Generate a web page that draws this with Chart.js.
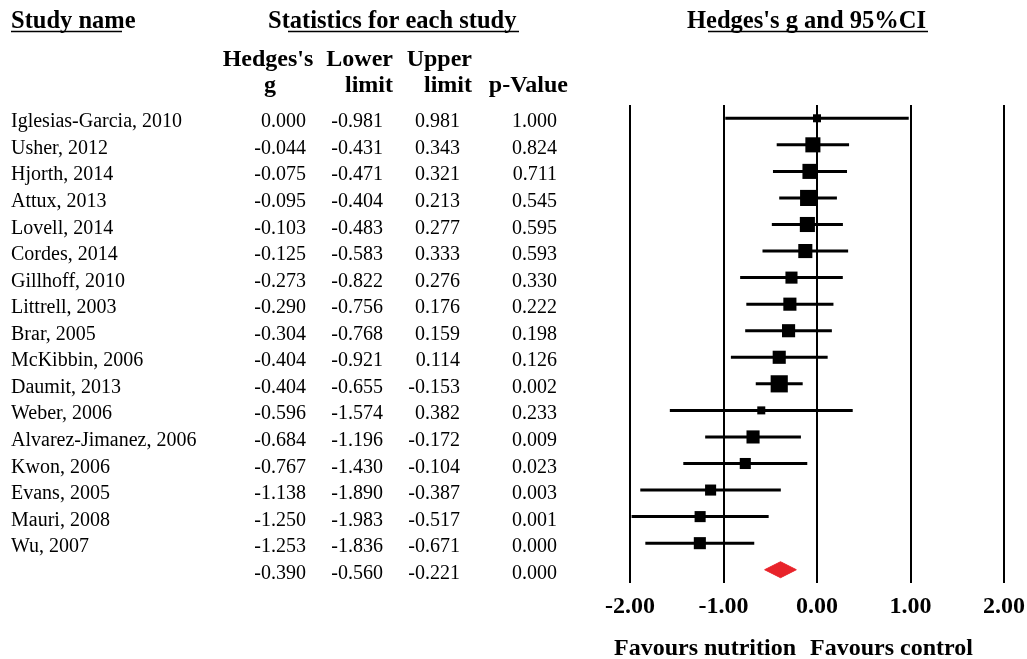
<!DOCTYPE html>
<html>
<head>
<meta charset="utf-8">
<title>Hedges's g forest plot</title>
<script src="https://cdn.jsdelivr.net/npm/chart.js@4.4.1/dist/chart.umd.min.js"></script>
<style>
  html, body { margin: 0; padding: 0; background: #ffffff; }
  #wrap { position: relative; width: 1027px; height: 659px; }
</style>
</head>
<body>
<div id="wrap"><canvas id="forest" width="1027" height="659"></canvas></div>
<script>
// Study-level results (Hedges's g with 95% confidence limits)
const studies = [
  'Iglesias-Garcia, 2010', 'Usher, 2012', 'Hjorth, 2014', 'Attux, 2013',
  'Lovell, 2014', 'Cordes, 2014', 'Gillhoff, 2010', 'Littrell, 2003',
  'Brar, 2005', 'McKibbin, 2006', 'Daumit, 2013', 'Weber, 2006',
  'Alvarez-Jimanez, 2006', 'Kwon, 2006', 'Evans, 2005', 'Mauri, 2008', 'Wu, 2007'
];
const hedgesG = [0.000, -0.044, -0.075, -0.095, -0.103, -0.125, -0.273, -0.290,
  -0.304, -0.404, -0.404, -0.596, -0.684, -0.767, -1.138, -1.250, -1.253];
const lowerLimit = [-0.981, -0.431, -0.471, -0.404, -0.483, -0.583, -0.822, -0.756,
  -0.768, -0.921, -0.655, -1.574, -1.196, -1.430, -1.890, -1.983, -1.836];
const upperLimit = [0.981, 0.343, 0.321, 0.213, 0.277, 0.333, 0.276, 0.176,
  0.159, 0.114, -0.153, 0.382, -0.172, -0.104, -0.387, -0.517, -0.671];
const pValues = [1.000, 0.824, 0.711, 0.545, 0.595, 0.593, 0.330, 0.222,
  0.198, 0.126, 0.002, 0.233, 0.009, 0.023, 0.003, 0.001, 0.000];
// Relative weight of each study (%), shown by the area of its box
const relWeight = [2.2, 7.8, 7.8, 8.9, 7.8, 6.8, 5.0, 5.9, 5.9, 5.9, 10.1, 2.2,
  5.9, 4.2, 4.2, 4.2, 5.0];

// Pooled estimate
const pooledG = -0.390;
const pooledLower = -0.560;
const pooledUpper = -0.221;
const pooledP = 0.000;

// Effect-size axis
const xTickValues = [-2, -1, 0, 1, 2];
const xLeftCaption = 'Favours nutrition';
const xRightCaption = 'Favours control';

const nRows = studies.length + 1;           // studies + pooled row
const pooledRow = studies.length;
const BOX_SCALE = 5.4;                       // px of box side per sqrt(weight)
const DIAMOND_HALF = 0.3;                    // half height of pooled diamond, in rows

const SERIF = '"Liberation Serif", "Times New Roman", Times, serif';

// One horizontal segment per confidence interval
const ciSets = studies.map((s, i) => ({
  type: 'line',
  label: s,
  data: [{ x: lowerLimit[i], y: i }, { x: upperLimit[i], y: i }],
  borderColor: '#000000',
  borderWidth: 3,
  pointRadius: 0,
  fill: false,
  order: 2
}));

const boxSet = {
  type: 'scatter',
  label: 'Hedges\'s g',
  data: hedgesG.map((g, i) => ({ x: g, y: i })),
  pointStyle: 'rect',
  pointRadius: relWeight.map(w => BOX_SCALE * Math.sqrt(w) / Math.SQRT2),
  backgroundColor: '#000000',
  borderColor: '#000000',
  borderWidth: 0,
  order: 1
};

const diamondSet = {
  type: 'line',
  label: 'Pooled',
  data: [
    { x: pooledLower, y: pooledRow },
    { x: pooledG, y: pooledRow - DIAMOND_HALF },
    { x: pooledUpper, y: pooledRow },
    { x: pooledG, y: pooledRow + DIAMOND_HALF },
    { x: pooledLower, y: pooledRow }
  ],
  borderColor: '#e8232a',
  backgroundColor: '#e8232a',
  borderWidth: 1,
  pointRadius: 0,
  tension: 0,
  fill: 'shape',
  order: 0
};

const fmt3 = v => v.toFixed(3);

// Table of statistics, headings and axis captions
const tablePlugin = {
  id: 'studyTable',
  afterDraw(chart) {
    const ctx = chart.ctx;
    const y = chart.scales.y;
    ctx.save();
    ctx.fillStyle = '#000000';
    ctx.strokeStyle = '#000000';
    ctx.textBaseline = 'alphabetic';

    // Headings with their underlines
    ctx.font = 'bold 24.5px ' + SERIF;
    const heads = [
      { t: 'Study name', x: 11, u0: 11, u1: 122 },
      { t: 'Statistics for each study', x: 268, u0: 288, u1: 519 },
      { t: 'Hedges\'s g and 95%CI', x: 687, u0: 708, u1: 928 }
    ];
    ctx.textAlign = 'left';
    heads.forEach(h => {
      ctx.fillText(h.t, h.x, 28);
      ctx.lineWidth = 1.5;
      ctx.beginPath();
      ctx.moveTo(h.u0, 31.5);
      ctx.lineTo(h.u1, 31.5);
      ctx.stroke();
    });

    // Column headings
    ctx.font = 'bold 24px ' + SERIF;
    ctx.textAlign = 'center';
    ctx.fillText('Hedges\'s', 268, 66);
    ctx.fillText('g', 270, 92);
    ctx.textAlign = 'right';
    ctx.fillText('Lower', 393, 66);
    ctx.fillText('limit', 393, 92);
    ctx.fillText('Upper', 472, 66);
    ctx.fillText('limit', 472, 92);
    ctx.fillText('p-Value', 568, 92);

    // Rows
    ctx.font = '20px ' + SERIF;
    const colRight = [306, 383, 460, 557];
    for (let i = 0; i < nRows; i++) {
      const py = y.getPixelForValue(i) + 9;
      const isPooled = i === pooledRow;
      const vals = isPooled
        ? [pooledG, pooledLower, pooledUpper, pooledP]
        : [hedgesG[i], lowerLimit[i], upperLimit[i], pValues[i]];
      if (!isPooled) {
        ctx.textAlign = 'left';
        ctx.fillText(studies[i], 11, py);
      }
      ctx.textAlign = 'right';
      vals.forEach((v, k) => ctx.fillText(fmt3(v), colRight[k], py));
    }

    // Captions under the effect-size axis
    ctx.font = 'bold 24px ' + SERIF;
    ctx.textAlign = 'right';
    ctx.fillText(xLeftCaption, 796, 655);
    ctx.textAlign = 'left';
    ctx.fillText(xRightCaption, 810, 655);
    ctx.restore();
  }
};

new Chart(document.getElementById('forest'), {
  type: 'scatter',
  data: { datasets: [...ciSets, boxSet, diamondSet] },
  options: {
    responsive: false,
    maintainAspectRatio: false,
    animation: false,
    devicePixelRatio: 1,
    layout: { padding: { left: 630, right: 23, top: 105, bottom: 0 } },
    plugins: { legend: { display: false }, tooltip: { enabled: false } },
    scales: {
      x: {
        type: 'linear',
        position: 'bottom',
        min: xTickValues[0],
        max: xTickValues[xTickValues.length - 1],
        afterBuildTicks(scale) {
          scale.ticks = xTickValues.map(v => ({ value: v }));
        },
        afterFit(scale) {
          scale.height = 76;
          scale.paddingLeft = 0;
          scale.paddingRight = 0;
        },
        grid: { color: '#000000', lineWidth: 2, drawTicks: false },
        border: { display: false },
        ticks: {
          color: '#000000',
          padding: 9,
          autoSkip: false,
          maxRotation: 0,
          font: { family: SERIF, size: 24, weight: 'bold' },
          callback: v => Number(v).toFixed(2)
        }
      },
      y: {
        type: 'linear',
        min: -0.5,
        max: nRows - 0.5,
        reverse: true,
        display: false
      }
    }
  },
  plugins: [tablePlugin]
});
</script>
</body>
</html>
